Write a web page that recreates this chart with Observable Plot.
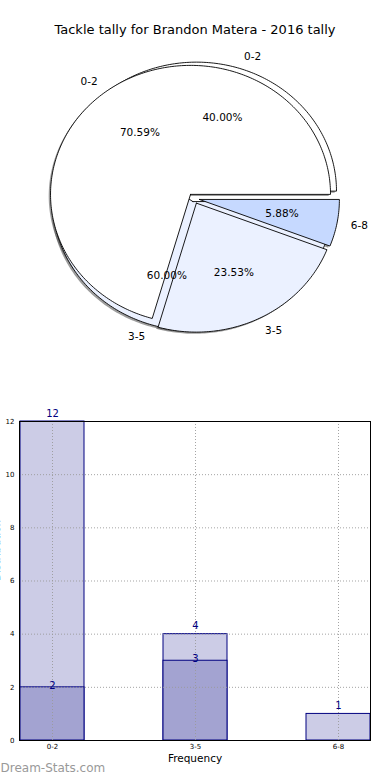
<!DOCTYPE html>
<html>
<head>
<meta charset="utf-8">
<script src="https://cdn.jsdelivr.net/npm/d3@7"></script>
<script src="https://cdn.jsdelivr.net/npm/@observablehq/plot@0.6"></script>
<style>
  html, body { margin: 0; padding: 0; background: #fff; }
  body { width: 390px; height: 780px; overflow: hidden; font-family: "DejaVu Sans", sans-serif; }
  #title { height: 23px; padding-top: 22px; line-height: 16px; font-size: 13px; text-align: center; color: #000; }
  #pie svg, #bars svg { display: block; overflow: visible; }
  #gap { height: 45px; }
</style>
</head>
<body>
<div id="title">Tackle tally for Brandon Matera - 2016 tally</div>
<div id="pie"></div>
<div id="gap"></div>
<div id="bars"></div>
<script>
// ---- data ----
const categories = ["0-2", "3-5", "6-8"];
const tallyAll = [12, 4, 1];
const tallySub = [2, 3, 0];
const yTicks = [0, 2, 4, 6, 8, 10, 12];
const yLabel = "Distribution";
const xLabel = "Frequency";
const watermark = "Dream-Stats.com";

// ---- styles ----
const sliceColors = {"0-2": "#ffffff", "3-5": "#ebf1ff", "6-8": "#c6d9ff"};
const navy = "#000080";

// ---- pie geometry (matplotlib-like: startangle 0, counterclockwise) ----
function buildPie(values, pieId, explode) {
  const items = categories.map((c, i) => ({cat: c, v: values[i], e: explode[i]})).filter(d => d.v > 0);
  const total = d3.sum(items, d => d.v);
  let a = 0;
  return items.map(d => {
    const span = d.v / total * 360;
    const a0 = a, a1 = a + span, am = (a0 + a1) / 2;
    a = a1;
    const rad = am * Math.PI / 180;
    const ox = d.e * Math.cos(rad), oy = d.e * Math.sin(rad);
    const n = Math.max(2, Math.ceil(span));
    const pts = [{x: ox, y: oy}];
    for (let k = 0; k <= n; k++) {
      const t = (a0 + span * k / n) * Math.PI / 180;
      pts.push({x: ox + Math.cos(t), y: oy + Math.sin(t)});
    }
    pts.push({x: ox, y: oy});
    return {
      id: pieId + d.cat, cat: d.cat, pts, am, ox, oy,
      pct: (d.v / total * 100).toFixed(2) + "%",
      px: ox + 0.6 * Math.cos(rad), py: oy + 0.6 * Math.sin(rad),
      lx: ox + 1.1 * Math.cos(rad), ly: oy + 1.1 * Math.sin(rad)
    };
  });
}

const pieA = buildPie(tallySub, "A", [0.06, 0.025, 0]);
const pieB = buildPie(tallyAll, "B", [0.04, 0.04, 0.04]);
const allWedges = [...pieA, ...pieB];

const pieMarks = [];
// shadows (below all wedges)
for (const w of allWedges) {
  pieMarks.push(Plot.line(w.pts.map(p => ({x: p.x - 0.013, y: p.y - 0.013})), {
    x: "x", y: "y", fill: "#4d4d4d", fillOpacity: 0.55, stroke: "none"
  }));
}
for (const w of allWedges) {
  pieMarks.push(Plot.line(w.pts, {
    x: "x", y: "y", fill: sliceColors[w.cat], stroke: "#000", strokeWidth: 0.9, strokeLinejoin: "miter"
  }));
}
pieMarks.push(Plot.text(allWedges, {x: "px", y: "py", text: "pct", fontSize: 10.5, fill: "#000"}));
pieMarks.push(Plot.text(allWedges.filter(w => Math.cos(w.am * Math.PI / 180) >= 0),
  {x: "lx", y: "ly", text: "cat", textAnchor: "start", fontSize: 10.5, fill: "#000"}));
pieMarks.push(Plot.text(allWedges.filter(w => Math.cos(w.am * Math.PI / 180) < 0),
  {x: "lx", y: "ly", text: "cat", textAnchor: "end", fontSize: 10.5, fill: "#000"}));

const pieW = 390, pieH = 305, rx = 140, ry = 129, cxPx = 193.4, cyPx = 153;
const pie = Plot.plot({
  width: pieW, height: pieH,
  margin: 0,
  x: {domain: [-cxPx / rx, (pieW - cxPx) / rx], axis: null},
  y: {domain: [-(pieH - cyPx) / ry, cyPx / ry], axis: null},
  style: {fontFamily: "DejaVu Sans, sans-serif", background: "transparent"},
  marks: pieMarks
});
document.getElementById("pie").appendChild(pie);

// ---- bar chart ----
const dataAll = categories.map((c, i) => ({cat: c, v: tallyAll[i]}));
const dataSub = categories.map((c, i) => ({cat: c, v: tallySub[i]})).filter(d => d.v > 0);

const bars = Plot.plot({
  width: 390, height: 385,
  marginTop: 26, marginBottom: 40, marginLeft: 19, marginRight: 20,
  style: {fontFamily: "DejaVu Sans, sans-serif", background: "transparent", color: "#000"},
  x: {domain: categories, paddingInner: 0.554, paddingOuter: 0, label: null},
  y: {domain: [0, 12], label: null},
  marks: [
    Plot.barY(dataAll, {x: "cat", y: "v", fill: "rgb(204,204,230)", stroke: navy, strokeWidth: 1}),
    Plot.barY(dataSub, {x: "cat", y: "v", fill: "rgb(163,163,209)", stroke: navy, strokeWidth: 1}),
    Plot.gridY(yTicks, {stroke: "#9a9a9a", strokeOpacity: 0.9, strokeDasharray: "1,2", strokeWidth: 1}),
    Plot.gridX(categories, {stroke: "#9a9a9a", strokeOpacity: 0.9, strokeDasharray: "1,2", strokeWidth: 1}),
    Plot.frame({stroke: "#000", strokeWidth: 1}),
    Plot.axisY(yTicks, {tickSize: 0, tickPadding: 5, fontSize: 7, label: null}),
    Plot.axisX(categories, {tickSize: 0, tickPadding: 4, fontSize: 7, label: null}),
    Plot.text(dataAll, {x: "cat", y: "v", text: d => String(d.v), dy: -8, fill: navy, fontSize: 10}),
    Plot.text(dataSub, {x: "cat", y: "v", text: d => String(d.v), dy: -2, fill: navy, fontSize: 10}),
    Plot.text([xLabel], {frameAnchor: "bottom", dy: 21, fontSize: 10.5, fill: "#000"}),
    Plot.text([watermark], {frameAnchor: "bottom-left", dx: -19, dy: 31, textAnchor: "start",
      fontSize: 12, fontWeight: "normal", fill: "#999"}),
    Plot.text([yLabel], {frameAnchor: "left", dx: -20, rotate: -90, lineAnchor: "bottom", fontSize: 10.5, fill: "#000"})
  ]
});
document.getElementById("bars").appendChild(bars);
</script>
</body>
</html>
